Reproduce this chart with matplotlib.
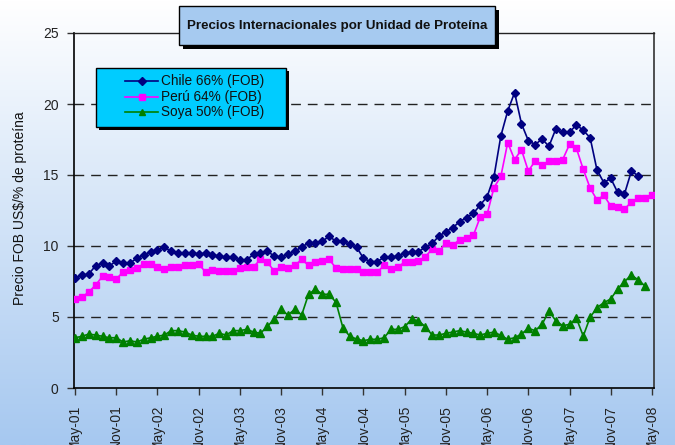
import numpy as np
import matplotlib
matplotlib.use("Agg")
import matplotlib.pyplot as plt
from matplotlib import font_manager
from matplotlib.patches import Rectangle
from matplotlib.lines import Line2D

# ---------------- data ----------------
tick_labels = ["May-01", "Nov-01", "May-02", "Nov-02", "May-03", "Nov-03", "May-04",
               "Nov-04", "May-05", "Nov-05", "May-06", "Nov-06", "May-07", "Nov-07", "May-08"]

chile = [7.72, 7.93, 8.03, 8.61, 8.80, 8.59, 8.94, 8.80, 8.80, 9.13, 9.39, 9.55, 9.72, 9.91, 9.62,
         9.51, 9.51, 9.51, 9.44, 9.48, 9.35,
         9.30, 9.20, 9.20, 9.01, 9.04, 9.41, 9.53, 9.62, 9.30, 9.20, 9.41, 9.62, 9.93, 10.21,
         10.21, 10.33, 10.68, 10.33, 10.33, 10.12, 9.92,
         9.13, 8.90, 8.90, 9.20, 9.20, 9.30, 9.48, 9.60, 9.60, 9.91, 10.19, 10.70, 11.01, 11.29,
         11.71, 12.00, 12.30, 12.89, 13.47, 14.88,
         17.75, 19.51, 20.80, 18.62, 17.42, 17.14, 17.54, 17.02, 18.24, 18.00, 18.00, 18.54,
         18.14, 17.63, 15.35, 14.46, 14.77, 13.78, 13.66, 15.26, 14.95]

peru = [6.29, 6.39, 6.76, 7.25, 7.86, 7.84, 7.68, 8.17, 8.29, 8.47, 8.73, 8.73, 8.54, 8.36, 8.54,
        8.54, 8.64, 8.64, 8.73, 8.17, 8.28,
        8.26, 8.26, 8.26, 8.45, 8.54, 8.54, 9.05, 8.85, 8.24, 8.54, 8.45, 8.64, 9.05, 8.64,
        8.85, 8.94, 9.05, 8.45, 8.36, 8.36, 8.37,
        8.15, 8.15, 8.15, 8.64, 8.36, 8.54, 8.85, 8.85, 8.94, 9.25, 9.77, 9.62, 10.23, 10.05,
        10.45, 10.54, 10.75, 12.04, 12.23, 14.11, 14.90,
        17.28, 16.08, 16.78, 15.28, 15.99, 15.68, 15.99, 15.99, 16.08, 17.16, 16.88, 15.40,
        14.08, 13.24, 13.57, 12.82, 12.72, 12.61, 13.08, 13.40, 13.40, 13.62]

soya = [3.54, 3.64, 3.80, 3.73, 3.64, 3.54, 3.54, 3.24, 3.33, 3.24, 3.43, 3.54, 3.64, 3.73, 4.04,
        4.04, 3.94, 3.73, 3.64, 3.64, 3.64,
        3.85, 3.73, 4.04, 4.04, 4.13, 3.94, 3.85, 4.34, 4.84, 5.54, 5.14, 5.54, 5.14, 6.60,
        6.95, 6.60, 6.60, 6.03, 4.25, 3.64, 3.45,
        3.33, 3.43, 3.43, 3.54, 4.13, 4.13, 4.32, 4.84, 4.74, 4.32, 3.73, 3.73, 3.85, 3.94,
        4.04, 3.94, 3.85, 3.73, 3.85, 3.94, 3.70,
        3.43, 3.54, 3.80, 4.20, 4.04, 4.48, 5.42, 4.74, 4.39, 4.48, 4.91, 3.66, 4.98, 5.66,
        6.01, 6.27, 6.97, 7.49, 7.96, 7.61, 7.18]

series_names = ["Chile 66% (FOB)", "Perú 64% (FOB)", "Soya 50% (FOB)"]
title_text = "Precios Internacionales por Unidad de Proteína"
ylabel_text = "Precio FOB US$/% de proteína"

# ---------------- fonts ----------------
avail = {f.name for f in font_manager.fontManager.ttflist}
has_narrow = "Liberation Sans Narrow" in avail
narrow = "Liberation Sans Narrow" if has_narrow else "Liberation Sans"
regular = "Liberation Sans"
title_size = 11 if has_narrow else 9.6
tick_size = 10.5 if has_narrow else 10

# ---------------- figure ----------------
W, H = 675, 445
fig = plt.figure(figsize=(W / 100, H / 100), dpi=100)

# gradient background over whole figure
bg = fig.add_axes([0, 0, 1, 1], zorder=-10)
top_c = np.array([1.0, 1.0, 1.0])
bot_c = np.array([166, 200, 240]) / 255
t = np.linspace(0, 1, 256)[:, None]
grad = top_c[None, :] * (1 - t) + bot_c[None, :] * t
bg.imshow(grad[:, None, :], aspect="auto", extent=[0, 1, 0, 1])
bg.set_axis_off()

left, right, top, bottom = 74, 654, 33, 388
ax = fig.add_axes([left / W, 1 - bottom / H, (right - left) / W, (bottom - top) / H])
ax.set_facecolor("none")

x_c = np.arange(len(chile))
x_p = np.arange(len(peru))
x_s = np.arange(len(soya))

ax.plot(x_c, chile, color="#000080", lw=1.2, marker="D", ms=4.5, mec="#000080", mfc="#000080", zorder=5)
ax.plot(x_p, peru, color="#FF00FF", lw=1.2, marker="s", ms=4.8, mec="#FF00FF", mfc="#FF00FF", zorder=4)
ax.plot(x_s, soya, color="#008000", lw=1.2, marker="^", ms=5.5, mec="#008000", mfc="#008000", zorder=3)

ax.set_ylim(0, 25)
ax.set_xlim(-0.15, 84.3)
ax.set_yticks([0, 5, 10, 15, 20, 25])
ax.set_xticks(np.arange(0, 85, 6))
ax.set_xticklabels(tick_labels, rotation=90, fontfamily=narrow, fontsize=tick_size, color="#222222")
for lab in ax.get_yticklabels():
    lab.set_fontfamily(narrow)
    lab.set_fontsize(tick_size)
    lab.set_color("#222222")
ax.tick_params(axis="x", direction="out", length=5, width=1, pad=7, color="#333333")
ax.tick_params(axis="y", direction="out", length=5, width=1, pad=6, color="#333333")

for yv in [5, 10, 15, 20]:
    ax.axhline(yv, color="#222222", lw=1.0, dashes=(7, 5), zorder=1)

ax.spines["left"].set_color("black")
ax.spines["left"].set_linewidth(1.2)
ax.spines["bottom"].set_color("black")
ax.spines["bottom"].set_linewidth(1.2)
ax.spines["right"].set_color("#333333")
ax.spines["right"].set_linewidth(1.2)
ax.spines["top"].set_color("#222222")
ax.spines["top"].set_linewidth(1.0)

fig.text(20 / W, 1 - 208 / H, ylabel_text, rotation=90, ha="center", va="center",
         fontfamily=regular, fontsize=10, color="#111111")

# ---------------- overlay for title box & legend (pixel coords) ----------------
ov = fig.add_axes([0, 0, 1, 1], zorder=20)
ov.set_xlim(0, W)
ov.set_ylim(H, 0)
ov.set_axis_off()
ov.patch.set_alpha(0)

# title box
tx0, ty0, tx1, ty1 = 179, 6, 495, 45
ov.add_patch(Rectangle((tx0 + 4, ty0 + 4), tx1 - tx0, ty1 - ty0, facecolor="black", edgecolor="none"))
ov.add_patch(Rectangle((tx0, ty0), tx1 - tx0, ty1 - ty0, facecolor="#A6CAF0", edgecolor="black", lw=1.0))
ov.text((tx0 + tx1) / 2, (ty0 + ty1) / 2 + 1, title_text, ha="center", va="center",
        fontfamily=narrow, fontsize=title_size, fontweight="bold", color="#111111")

# legend box
lx0, ly0, lx1, ly1 = 96, 68, 286, 127
ov.add_patch(Rectangle((lx0 + 3, ly0 + 3), lx1 - lx0, ly1 - ly0, facecolor="black", edgecolor="none"))
ov.add_patch(Rectangle((lx0, ly0), lx1 - lx0, ly1 - ly0, facecolor="#00CCFF", edgecolor="black", lw=1.0))
styles = [("#000080", "D", 4.0), ("#FF00FF", "s", 4.5), ("#008000", "^", 5.0)]
rows = [81, 96.5, 112]
for (col, mk, ms), yy, name in zip(styles, rows, series_names):
    ov.add_line(Line2D([125, 158], [yy, yy], color=col, lw=1.2))
    ov.add_line(Line2D([141.5], [yy], color=col, marker=mk, ms=ms, mfc=col, mec=col))
    ov.text(161, yy, name, ha="left", va="center", fontfamily=regular, fontsize=9.8, color="#111111")

fig.savefig("out.png", dpi=100)
